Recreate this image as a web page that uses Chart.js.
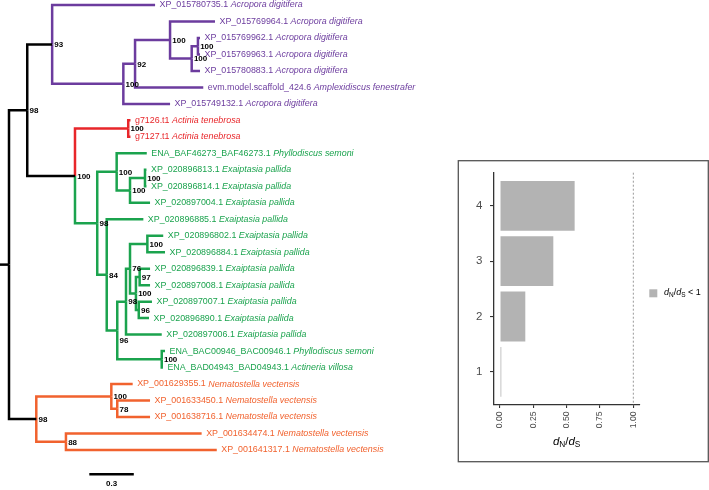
<!DOCTYPE html>
<html>
<head>
<meta charset="utf-8">
<script src="https://cdn.jsdelivr.net/npm/chart.js@4.4.1/dist/chart.umd.min.js"></script>
<style>
  html, body { margin: 0; padding: 0; background: #fff; }
  #wrap { position: relative; width: 709px; height: 490px; overflow: hidden; }
  #tree { position: absolute; left: 0; top: 0; }
  #inset { position: absolute; left: 456px; top: 158px; }
</style>
</head>
<body>
<div id="wrap">
  <canvas id="tree" width="456" height="490"></canvas>
  <canvas id="inset" width="253" height="306"></canvas>
</div>
<script>
// tips, top to bottom (row = index + 1)
const leafIds = [
  "XP_015780735.1", "XP_015769964.1", "XP_015769962.1", "XP_015769963.1", "XP_015780883.1",
  "evm.model.scaffold_424.6", "XP_015749132.1", "g7126.t1", "g7127.t1", "ENA_BAF46273_BAF46273.1",
  "XP_020896813.1", "XP_020896814.1", "XP_020897004.1", "XP_020896885.1", "XP_020896802.1",
  "XP_020896884.1", "XP_020896839.1", "XP_020897008.1", "XP_020897007.1", "XP_020896890.1",
  "XP_020897006.1", "ENA_BAC00946_BAC00946.1", "ENA_BAD04943_BAD04943.1", "XP_001629355.1",
  "XP_001633450.1", "XP_001638716.1", "XP_001634474.1", "XP_001641317.1"
];
const leafSpecies = [
  "Acropora digitifera", "Acropora digitifera", "Acropora digitifera", "Acropora digitifera", "Acropora digitifera",
  "Amplexidiscus fenestrafer", "Acropora digitifera", "Actinia tenebrosa", "Actinia tenebrosa", "Phyllodiscus semoni",
  "Exaiptasia pallida", "Exaiptasia pallida", "Exaiptasia pallida", "Exaiptasia pallida", "Exaiptasia pallida",
  "Exaiptasia pallida", "Exaiptasia pallida", "Exaiptasia pallida", "Exaiptasia pallida", "Exaiptasia pallida",
  "Exaiptasia pallida", "Phyllodiscus semoni", "Actineria villosa", "Nematostella vectensis",
  "Nematostella vectensis", "Nematostella vectensis", "Nematostella vectensis", "Nematostella vectensis"
];
const leafGroup = [
  "acro", "acro", "acro", "acro", "acro", "acro", "acro", "acti", "acti", "aipt",
  "aipt", "aipt", "aipt", "aipt", "aipt", "aipt", "aipt", "aipt", "aipt", "aipt",
  "aipt", "aipt", "aipt", "nema", "nema", "nema", "nema", "nema"
];
const leafDepth = [
  0.985, 1.389, 1.288, 1.288, 1.288, 1.310, 1.086, 0.819, 0.819, 0.929,
  0.927, 0.927, 0.951, 0.906, 1.040, 1.052, 0.951, 0.951, 0.964, 0.944,
  1.030, 1.052, 1.038, 0.834, 0.951, 0.951, 1.299, 1.401
];

// internal nodes; numbers in children are tip rows
const nodeNames = ["root", "G", "A", "B", "C", "D", "E", "F", "H", "I", "J", "K", "L", "M",
  "N", "O", "P", "U", "R", "T", "T97", "T96", "Q", "V", "W", "X", "Y"];
const nodeChildren = [
  ["G", "V"], ["A", "H"], [1, "B"], ["C", 7], ["D", 6], [2, "E"], ["F", 5], [3, 4],
  ["I", "J"], [8, 9], ["K", "N"], [10, "L"], ["M", 13], [11, 12], [14, "O"], ["P", "Q"],
  ["U", 21], ["R", "T"], [15, 16], ["T97", "T96"], [17, 18], [19, 20], [22, 23],
  ["W", "Y"], [24, "X"], [25, 26], [27, 28]
];
const nodeDepth = [0, 0.123, 0.291, 0.771, 0.850, 1.086, 1.232, 1.274, 0.445, 0.804, 0.595,
  0.726, 0.816, 0.917, 0.659, 0.730, 0.789, 0.816, 0.933, 0.856, 0.881, 0.875, 1.030,
  0.184, 0.690, 0.730, 0.384];
const nodeSupport = [null, 98, 93, 100, 92, 100, 100, 100, 100, 100, 98, 100, 100, 100,
  84, 96, 98, 76, 100, 100, 97, 96, 100, 98, 100, 78, 88];
const nodeGroup = ["base", "base", "base", "acro", "acro", "acro", "acro", "acro", "base", "acti",
  "aipt", "aipt", "aipt", "aipt", "aipt", "aipt", "aipt", "aipt", "aipt", "aipt", "aipt", "aipt",
  "aipt", "base", "nema", "nema", "nema"];
const rootEdge = 0.061;
const scaleBarFrom = 0.5415;
const scaleBarLength = 0.3;
const scaleBarRow = 29.48;

// inset: dN/dS per class
const ratioCats = [1, 2, 3, 4];
const ratioValues = [0.01, 0.19, 0.40, 0.56];
const ratioTicks = [0, 0.25, 0.5, 0.75, 1];
const ratioCutoff = 1;

const FONT = '"Liberation Sans", Arial, Helvetica, sans-serif';
const groupColors = { base: "#000000", acro: "#6c3c9e", acti: "#e8262a", aipt: "#1ba34e", nema: "#f1622e" };
const labelNudge = { O: 10 };

// node positions (x = depth, y = row)
const pos = {};
leafIds.forEach((id, i) => { pos[i + 1] = { x: leafDepth[i], y: i + 1, group: leafGroup[i] }; });
function place(name) {
  if (pos[name]) return pos[name];
  const k = nodeNames.indexOf(name);
  const kids = nodeChildren[k].map(place);
  pos[name] = { x: nodeDepth[k], y: (kids[0].y + kids[kids.length - 1].y) / 2, group: nodeGroup[k] };
  return pos[name];
}
place("root");

const edgeSets = [];
const lineStyle = { showLine: true, pointRadius: 0, borderWidth: 2.5, borderJoinStyle: "miter", borderCapStyle: "butt", tension: 0 };
edgeSets.push({ ...lineStyle, borderColor: "#000", data: [{ x: -rootEdge, y: pos.root.y }, { x: 0, y: pos.root.y }] });
nodeNames.forEach((n, k) => {
  const p = pos[n];
  nodeChildren[k].forEach((c) => {
    const q = pos[c];
    edgeSets.push({
      ...lineStyle,
      borderColor: groupColors[q.group],
      data: [{ x: p.x, y: p.y }, { x: p.x, y: q.y }, { x: q.x, y: q.y }],
    });
  });
});
edgeSets.push({ ...lineStyle, borderColor: "#000", data: [{ x: scaleBarFrom, y: scaleBarRow }, { x: scaleBarFrom + scaleBarLength, y: scaleBarRow }] });

const treeText = {
  id: "treeText",
  afterDatasetsDraw(chart) {
    const { ctx } = chart;
    const sx = chart.scales.x, sy = chart.scales.y;
    ctx.save();
    ctx.textBaseline = "middle";
    ctx.textAlign = "left";
    leafIds.forEach((id, i) => {
      const px = sx.getPixelForValue(leafDepth[i]) + 4.5;
      const py = sy.getPixelForValue(i + 1);
      ctx.fillStyle = groupColors[leafGroup[i]];
      ctx.font = "8.9px " + FONT;
      ctx.fillText(id + " ", px, py);
      const w = ctx.measureText(id + " ").width;
      ctx.font = "italic 8.9px " + FONT;
      ctx.fillText(leafSpecies[i], px + w, py);
    });
    ctx.fillStyle = "#000";
    ctx.font = "bold 8px " + FONT;
    nodeNames.forEach((n, k) => {
      if (!nodeSupport[k]) return;
      const p = pos[n];
      ctx.fillText(String(nodeSupport[k]), sx.getPixelForValue(p.x) + 2.2, sy.getPixelForValue(p.y) + 0.6 + (labelNudge[n] || 0));
    });
    ctx.textAlign = "center";
    ctx.fillText(String(scaleBarLength), sx.getPixelForValue(scaleBarFrom + scaleBarLength / 2), sy.getPixelForValue(scaleBarRow) + 9.5);
    ctx.restore();
  },
};

new Chart(document.getElementById("tree"), {
  type: "scatter",
  data: { datasets: edgeSets },
  options: {
    responsive: false,
    animation: false,
    layout: { padding: 0, autoPadding: false },
    plugins: { legend: { display: false }, tooltip: { enabled: false } },
    scales: {
      x: { type: "linear", display: false, min: -0.0607, max: 3.0142 },
      y: { type: "linear", display: false, reverse: true, min: 0.6966, max: 30.43 },
    },
  },
  plugins: [treeText],
});

// rich text: d_N/d_S
function drawRatio(ctx, x, y, size, align) {
  const parts = [
    { t: "d", f: "italic " + size + "px " + FONT, dy: 0 },
    { t: "N", f: Math.round(size * 0.72 * 10) / 10 + "px " + FONT, dy: size * 0.3 },
    { t: "/", f: size + "px " + FONT, dy: 0 },
    { t: "d", f: "italic " + size + "px " + FONT, dy: 0 },
    { t: "S", f: Math.round(size * 0.72 * 10) / 10 + "px " + FONT, dy: size * 0.3 },
  ];
  let total = 0;
  parts.forEach((p) => { ctx.font = p.f; p.w = ctx.measureText(p.t).width; total += p.w; });
  let cx = align === "center" ? x - total / 2 : x;
  ctx.textAlign = "left";
  parts.forEach((p) => { ctx.font = p.f; ctx.fillText(p.t, cx, y + p.dy); cx += p.w; });
  return cx;
}

const insetDeco = {
  id: "insetDeco",
  beforeDraw(chart) {
    const { ctx } = chart;
    ctx.save();
    ctx.strokeStyle = "#555";
    ctx.lineWidth = 1.3;
    ctx.strokeRect(2.3, 2.7, 250, 301);
    ctx.restore();
  },
  afterDatasetsDraw(chart) {
    const { ctx, chartArea } = chart;
    const sx = chart.scales.x;
    ctx.save();
    const xc = sx.getPixelForValue(ratioCutoff);
    ctx.strokeStyle = "#9a9a9a";
    ctx.lineWidth = 1;
    ctx.setLineDash([2, 2]);
    ctx.beginPath();
    ctx.moveTo(xc, chartArea.top);
    ctx.lineTo(xc, chartArea.bottom);
    ctx.stroke();
    ctx.setLineDash([]);
    ctx.fillStyle = "#000";
    ctx.textBaseline = "middle";
    drawRatio(ctx, (chartArea.left + chartArea.right) / 2, 283.5, 11.5, "center");
    // legend
    ctx.fillStyle = "#b3b3b3";
    ctx.fillRect(193.3, 131.3, 8, 8);
    ctx.fillStyle = "#000";
    const end = drawRatio(ctx, 208, 134.5, 9, "left");
    ctx.font = "9px " + FONT;
    ctx.fillText(" < 1", end, 134.5);
    ctx.restore();
  },
};

new Chart(document.getElementById("inset"), {
  type: "bar",
  data: {
    datasets: [{
      data: ratioCats.map((c, i) => ({ x: ratioValues[i], y: c })),
      backgroundColor: "#b3b3b3",
      borderWidth: 0,
      categoryPercentage: 0.9,
      barPercentage: 1,
    }],
  },
  options: {
    indexAxis: "y",
    responsive: false,
    animation: false,
    layout: { padding: { left: 0, top: 14.7, right: 69, bottom: 0 }, autoPadding: false },
    plugins: { legend: { display: false }, tooltip: { enabled: false } },
    scales: {
      x: {
        type: "linear", min: -0.05, max: 1.05, offset: false,
        afterBuildTicks: (s) => { s.ticks = ratioTicks.map((v) => ({ value: v })); },
        afterFit: (s) => { s.height = 59; },
        ticks: { minRotation: 90, maxRotation: 90, autoSkip: false, padding: 3.5, color: "#4d4d4d",
          font: { family: FONT, size: 8.6 }, callback: (v) => Number(v).toFixed(2) },
        grid: { drawOnChartArea: false, tickLength: 3, color: "#333", lineWidth: 1.1, offset: false },
        border: { color: "#333", width: 1.3 },
      },
      y: {
        type: "linear", min: 0.4, max: 4.6, offset: false,
        afterBuildTicks: (s) => { s.ticks = ratioCats.map((v) => ({ value: v })); },
        afterFit: (s) => { s.width = 37.3; },
        ticks: { padding: 7.5, color: "#4d4d4d", font: { family: FONT, size: 11.5 }, callback: (v) => String(v) },
        grid: { drawOnChartArea: false, tickLength: 3.3, color: "#333", lineWidth: 1.1, offset: false },
        border: { color: "#333", width: 1.3 },
      },
    },
  },
  plugins: [insetDeco],
});
</script>
</body>
</html>
